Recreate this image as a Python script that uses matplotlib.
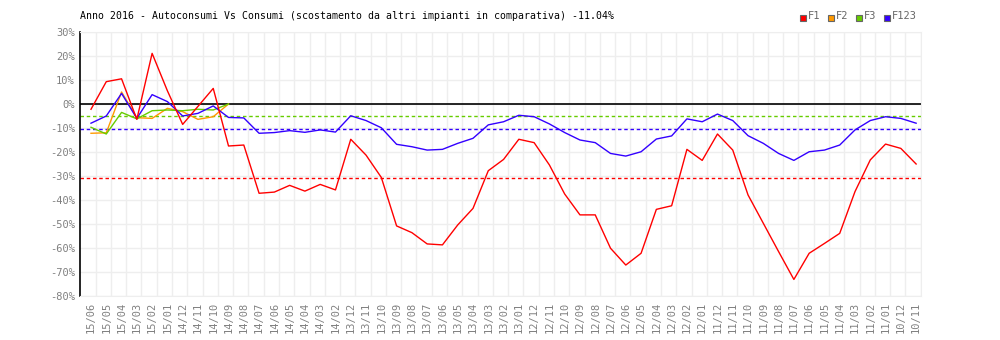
import matplotlib
matplotlib.use('Agg')
import matplotlib.pyplot as plt
from matplotlib.patches import Rectangle
import numpy as np

# months, newest first (as on the chart)
months = ['15/06', '15/05', '15/04', '15/03', '15/02', '15/01',
          '14/12', '14/11', '14/10', '14/09', '14/08', '14/07', '14/06', '14/05', '14/04', '14/03', '14/02',
          '13/12', '13/11', '13/10', '13/09', '13/08', '13/07', '13/06', '13/05', '13/04', '13/03', '13/02', '13/01',
          '12/12', '12/11', '12/10', '12/09', '12/08', '12/07', '12/06', '12/05', '12/04', '12/03', '12/02', '12/01',
          '11/12', '11/11', '11/10', '11/09', '11/08', '11/07', '11/06', '11/05', '11/04', '11/03', '11/02', '11/01',
          '10/12', '10/11']

f1 = [-2.2, 9.3, 10.5, -6.4, 21.1, 5.5, -8.5, -1.0, 6.5, -17.5,
      -17.1, -37.2, -36.7, -33.9, -36.3, -33.5, -35.8, -14.7, -21.3, -30.6,
      -50.8, -53.6, -58.3, -58.7, -50.4, -43.5, -27.8, -23.1, -14.7, -16.1,
      -25.4, -37.5, -46.2, -46.2, -60.1, -67.1, -62.2, -43.9, -42.4, -18.9,
      -23.5, -12.5, -19.2, -37.9, -49.7, -61.5, -73.1, -62.2, -58.1, -53.9,
      -36.5, -23.3, -16.7, -18.5, -25.0]

f2 = [-12.2, -12.0, 5.0, -5.7, -6.0, -1.8, -3.2, -6.4, -5.3, 0.0]

f3 = [-9.7, -12.5, -3.5, -6.2, -2.8, -2.5, -2.8, -2.2, -2.5, 0.0]

f123 = [-8.0, -5.0, 4.4, -6.0, 3.9, 1.0, -5.0, -3.9, -0.8, -5.6,
        -5.8, -12.2, -11.9, -11.1, -11.8, -10.8, -11.7, -4.9, -6.9, -9.9,
        -16.8, -17.8, -19.2, -18.9, -16.4, -14.3, -8.7, -7.4, -4.7, -5.3,
        -8.3, -11.9, -15.0, -16.1, -20.6, -21.7, -19.9, -14.6, -13.3, -6.2,
        -7.4, -4.2, -6.9, -13.2, -16.4, -20.6, -23.5, -19.9, -19.2, -17.1,
        -10.8, -6.9, -5.3, -6.0, -8.0]

# reference (average) lines
avg_f1 = -31.0
avg_f3 = -5.0
avg_f123 = -10.6

series_names = ['F1', 'F2', 'F3', 'F123']
colors = ['#ff0000', '#ff9900', '#66cc00', '#3300ff']

title = 'Anno 2016 - Autoconsumi Vs Consumi (scostamento da altri impianti in comparativa) -11.04%'

mono = 'DejaVu Sans Mono'

fig = plt.figure(figsize=(10, 3.4), dpi=100)
ax = fig.add_axes([0.0803, 0.1294, 0.8404, 0.7765])

x = np.arange(len(months))
ax.set_xlim(-0.7, len(months) - 0.7)
ax.set_ylim(-80, 30)

# grid
ax.set_yticks(np.arange(-80, 31, 10))
ax.set_xticks(x)
ax.set_xticks(np.arange(len(months)) + 0.3, minor=True)
ax.grid(True, axis='y', which='major', color='#eeeeee', lw=1)
ax.grid(True, axis='x', which='minor', color='#eeeeee', lw=1)
ax.set_axisbelow(True)

ax.set_yticklabels([f'{v}%' for v in range(-80, 31, 10)], fontfamily=mono, fontsize=7.5, color='#808080')
ax.set_xticklabels(months, rotation=90, fontfamily=mono, fontsize=7.5, color='#808080')
ax.tick_params(axis='both', which='both', length=0, pad=4)

for s in ['top', 'right', 'bottom']:
    ax.spines[s].set_color('#eeeeee')
ax.spines['left'].set_color('black')
ax.spines['left'].set_linewidth(1.2)

ax.axhline(0, color='black', lw=1.2)
ax.axhline(avg_f3, color=colors[2], lw=1, ls=(0, (2.5, 2)))
ax.axhline(avg_f123, color=colors[3], lw=1, ls=(0, (2.5, 2)))
ax.axhline(avg_f1, color=colors[0], lw=1, ls=(0, (2.5, 2)))

ax.plot(x[:len(f2)], f2, color=colors[1], lw=1)
ax.plot(x[:len(f3)], f3, color=colors[2], lw=1)
ax.plot(x, f123, color=colors[3], lw=1)
ax.plot(x, f1, color=colors[0], lw=1)

fig.text(0.080, 0.954, title, fontfamily=mono, fontsize=7.1, va='center', ha='left')

# legend in the top right corner
lx = 0.7995
for name, c in zip(series_names, colors):
    fig.patches.append(Rectangle((lx, 0.9375), 0.006, 0.0176, transform=fig.transFigure,
                                 facecolor=c, edgecolor='#666666', lw=0.8))
    fig.text(lx + 0.0085, 0.954, name, fontfamily=mono, fontsize=7.5, color='#666666',
             va='center', ha='left')
    lx += 0.0085 + 0.006 * len(name) + 0.0075

fig.savefig('out.png', dpi=100)
